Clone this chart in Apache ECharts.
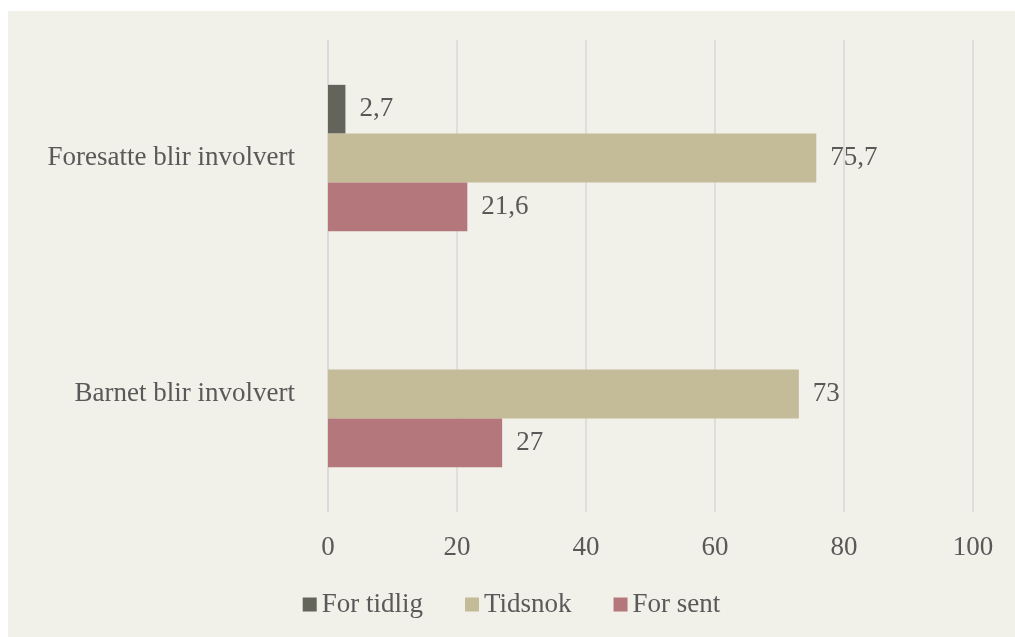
<!DOCTYPE html>
<html>
<head>
<meta charset="utf-8">
<script src="https://cdn.jsdelivr.net/npm/echarts@6/dist/echarts.min.js"></script>
<style>
  html, body { margin: 0; padding: 0; background: #ffffff; }
  #main { position: absolute; left: 8px; top: 11px; width: 1007px; height: 626px; background: #f1f0e9; }
</style>
</head>
<body>
<div id="main"></div>
<script>
const categories = ['Foresatte blir involvert', 'Barnet blir involvert'];
const seriesNames = ['For tidlig', 'Tidsnok', 'For sent'];
const forTidlig = [2.7, null];
const tidsnok = [75.7, 73];
const forSent = [21.6, 27];
const colors = ['#64655a', '#c4bc99', '#b4787c'];

const font = '"Liberation Serif", "DejaVu Serif", serif';
const textColor = '#595959';
const fs = 27;

let myChart = echarts.init(document.getElementById('main'));

function fmt(p) {
    return String(p.value).replace('.', ',');
}

function makeSeries(name, data, color) {
    return {
        name: name,
        type: 'bar',
        data: data,
        itemStyle: { color: color },
        barGap: '0%',
        barCategoryGap: '38%',
        label: {
            show: true,
            position: 'right',
            distance: 14,
            formatter: fmt,
            fontFamily: font,
            fontSize: fs,
            color: textColor
        }
    };
}

let option = {
    animation: false,
    textStyle: { fontFamily: font },
    grid: { left: 320, right: 42, top: 29, bottom: 125, containLabel: false },
    legend: {
        data: seriesNames,
        bottom: 14,
        left: 'center',
        itemWidth: 14,
        itemHeight: 14,
        itemGap: 42,
        icon: 'rect',
        textStyle: { fontFamily: font, fontSize: fs, color: textColor }
    },
    xAxis: {
        type: 'value',
        min: 0,
        max: 100,
        interval: 20,
        axisLine: { show: false },
        axisTick: { show: false },
        splitLine: { show: true, lineStyle: { color: '#d9d9d9', width: 1.5 } },
        axisLabel: { margin: 22, fontFamily: font, fontSize: fs, color: textColor }
    },
    yAxis: {
        type: 'category',
        data: categories,
        inverse: true,
        axisLine: { show: true, lineStyle: { color: '#d9d9d9', width: 1.5 } },
        axisTick: { show: false },
        axisLabel: { margin: 33, fontFamily: font, fontSize: fs, color: textColor }
    },
    series: [
        makeSeries(seriesNames[0], forTidlig, colors[0]),
        makeSeries(seriesNames[1], tidsnok, colors[1]),
        makeSeries(seriesNames[2], forSent, colors[2])
    ]
};
myChart.setOption(option);
</script>
</body>
</html>
